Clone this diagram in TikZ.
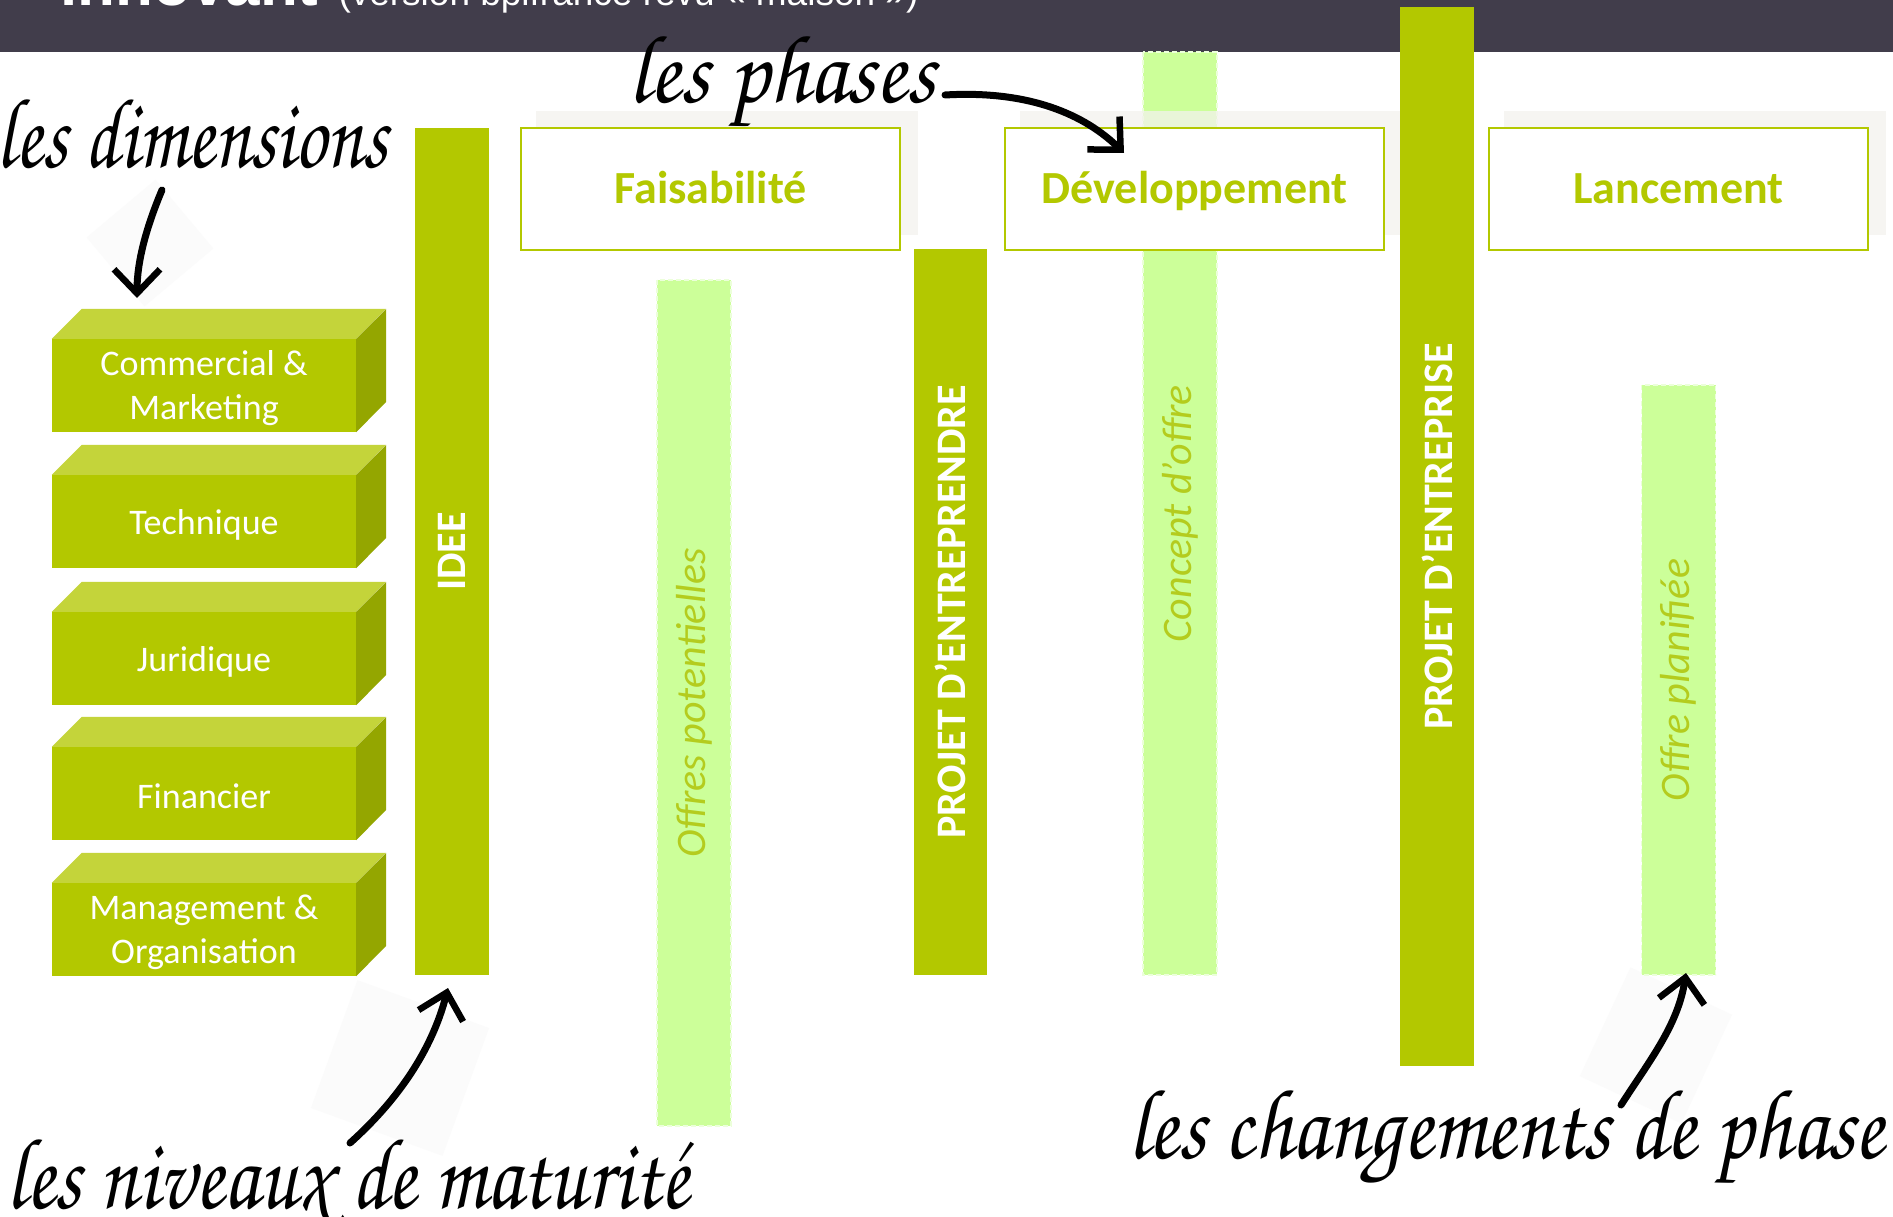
\documentclass[tikz,border=0pt]{standalone}
\usepackage[T1]{fontenc}
\usepackage{fontspec}
\setmainfont{Carlito}
\newfontfamily\arialf{Liberation Sans}
\newfontfamily\lmfam{Latin Modern Roman}
\usetikzlibrary{arrows.meta,calc}
\definecolor{hdr}{RGB}{65,61,75}
\definecolor{olive}{RGB}{179,200,0}
\definecolor{olivetop}{RGB}{196,212,58}
\definecolor{oliveside}{RGB}{148,166,0}
\definecolor{lightg}{RGB}{204,255,153}
\definecolor{lightedge}{RGB}{236,255,218}
\definecolor{lighttext}{RGB}{180,204,30}
\definecolor{shadowc}{RGB}{243,242,238}
\definecolor{paperc}{RGB}{251,251,251}
\IfFileExists{t1pzc.fd}
  {\newcommand\handfont{\fontencoding{T1}\fontfamily{pzc}\fontseries{mb}\fontshape{it}\selectfont}}
  {\newcommand\handfont{\lmfam\itshape}}
\newcommand\dimcube[3]{%
  \node[cube] (#1) at (204,#2) {};
  \node[cubetext] (#1t) at ($(#1)+(0,3)$) {#3};
  \fill[olivetop] (#1.north west) -- ++(30,-30) -- ++(304,0) -- (#1.north east) -- cycle;
  \fill[oliveside] (#1.north east) -- ++(30,-30) -- ++(0,93) -- (#1.south east) -- cycle;
}
\begin{document}
\begin{tikzpicture}[x=1pt,y=-1pt,
  cube/.style={fill=olive, minimum width=304pt, minimum height=93pt, inner sep=0pt},
  cubetext/.style={text=white, inner sep=0pt, align=center, font=\fontsize{36}{44}\selectfont},
  bar/.style={rotate=90, minimum height=74pt, inner sep=0pt, fill=olive, text=white, font=\bfseries\fontsize{42}{48}\selectfont},
  lbar/.style={rotate=90, minimum height=74pt, inner sep=0pt, fill=lightg, draw=lightedge, dash pattern=on 5pt off 3pt, line width=1.5pt, text=lighttext, font=\itshape\fontsize{42}{48}\selectfont},
  phase/.style={draw=olive, line width=2pt, fill=white, minimum width=379pt, minimum height=122pt, inner sep=0pt, text height=38pt, text depth=8pt, text=olive, font=\bfseries\fontsize{46}{52}\selectfont},
  hand/.style={inner sep=0pt, anchor=base west, text=black},
  handarrow/.style={line width=7pt, line cap=round, draw=black, -{Straight Barb[length=24pt, width=46pt, line width=6.5pt]}}
]
\useasboundingbox (0,0) rectangle (1893,1217);
\clip (0,0) rectangle (1893,1217);
\fill[white] (0,0) rectangle (1893,1217);
% header
\fill[hdr] (0,0) rectangle (1893,52);
\node[inner sep=0pt, anchor=base west, text=white] (title) at (60,6)
  {\arialf{\bfseries\fontsize{62}{64}\selectfont innovant}\hspace{20pt}{\fontsize{37}{40}\selectfont (version bpifrance revu «~maison~»)}};
% faint paper squares behind hand-drawn arrows
\fill[paperc, rotate around={40:(150,243)}] (105,198) rectangle (195,288);
\fill[paperc, rotate around={-20:(400,1068)}] (330,1000) rectangle (470,1136);
\fill[paperc, rotate around={-25:(1655,1045)}] (1600,985) rectangle (1712,1105);
% light bars
\node[lbar, minimum width=923pt] (concept) at (1180,513.5) {Concept d’offre};
\node[lbar, minimum width=846pt] (offres) at (694,703) {Offres potentielles};
\node[lbar, minimum width=590pt] (planif) at (1678.5,680) {Offre planifiée};
% phase boxes with shadows
\coordinate (faisc) at (710.5,189);
\coordinate (devc) at (1194.5,189);
\coordinate (lancc) at (1678.5,189);
\fill[shadowc, opacity=.75] ($(faisc)+(-174.5,-78)$) rectangle ($(faisc)+(207.5,46)$);
\fill[shadowc, opacity=.75] ($(devc)+(-174.5,-78)$) rectangle ($(devc)+(207.5,46)$);
\fill[shadowc, opacity=.75] ($(lancc)+(-174.5,-78)$) rectangle ($(lancc)+(207.5,46)$);
\node[phase] (fais) at (faisc) {Faisabilité};
\node[phase] (dev) at (devc) {Développement};
\node[phase] (lanc) at (lancc) {Lancement};
% olive bars
\node[bar, minimum width=847pt] (idee) at (452,551.5) {IDEE};
\node[bar, minimum width=726pt, minimum height=73pt] (pent) at (950.5,612) {PROJET D’ENTREPRENDRE};
\node[bar, minimum width=1059pt] (pentr) at (1437,536.5) {PROJET D’ENTREPRISE};
% dimension blocks
\dimcube{comm}{385.5}{Commercial \&\\Marketing}
\dimcube{tech}{521.5}{Technique}
\dimcube{jur}{658.5}{Juridique}
\dimcube{fin}{793.5}{Financier}
\dimcube{mgmt}{929.5}{Management \&\\Organisation}
% handwritten labels
\node[hand] (tdim) at (-4,168) {\resizebox{392pt}{71pt}{\handfont les dimensions}};
\node[hand] (tpha) at (628,103) {\resizebox{307pt}{69pt}{\handfont les phases}};
\node[hand] (tmat) at (6,1208) {\resizebox{682pt}{72pt}{\handfont les niveaux de maturit\'e}};
\node[hand] (tchg) at (1128,1158) {\resizebox{756pt}{71pt}{\handfont les changements de phase}};
% arrows
\coordinate (a1s) at (162,190); \coordinate (a1t) at (137,298);
\coordinate (a2s) at (945,95);  \coordinate (a2t) at (1124,153);
\coordinate (a3s) at (350,1143); \coordinate (a3t) at (448,988);
\coordinate (a4s) at (1621,1105); \coordinate (a4t) at (1686,973);
\draw[handarrow] (a1s) .. controls (146,228) and (137,262) .. (a1t);
\draw[handarrow] (a2s) .. controls (1030,90) and (1085,115) .. (a2t);
\draw[handarrow] (a3s) .. controls (398,1100) and (432,1050) .. (a3t);
\draw[handarrow] (a4s) .. controls (1650,1060) and (1678,1025) .. (a4t);
\end{tikzpicture}
\end{document}
